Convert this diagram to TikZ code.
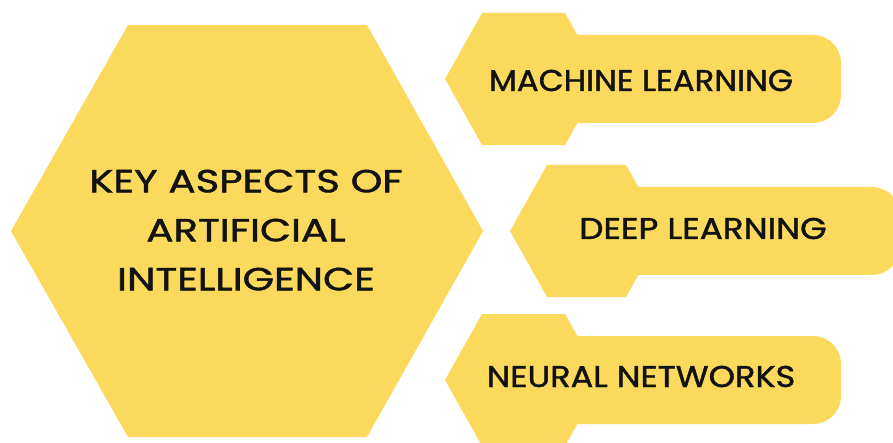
\documentclass[tikz,border=0pt]{standalone}
\usepackage{fontspec}
\usepackage{graphicx}
\newfontfamily\capsfont{Poppins}[FakeBold=1.3]
\definecolor{honey}{RGB}{250,217,92}
\definecolor{ink}{RGB}{18,18,18}

% A tab: hexagon head (left vertex at #1,#2; top edge #3 long) joined to a
% rounded bar ending at x = #4.
\newcommand\honeytab[4]{%
  \fill[honey] (#1,#2) -- ++(37,-66) -- ++(#3,0) -- ++(37,66)
               -- ++(-37,66) -- ++(-#3,0) -- cycle;
  \fill[honey, rounded corners=28] (#1+100,#2-44) rectangle (#4,#2+44);
}
% widened caption text: #1 horizontal stretch, #2 text
\newcommand\widecaps[2]{\scalebox{#1}[1]{#2}}

\begin{document}
\begin{tikzpicture}[x=1pt, y=-1pt,
    tabtext/.style={font=\capsfont\fontsize{30}{49}\selectfont, text=ink,
                    inner sep=0pt, anchor=base},
    coretext/.style={font=\capsfont\fontsize{32}{49}\selectfont, text=ink,
                     inner sep=0pt}]
  \useasboundingbox (0,0) rectangle (893,443);
  \begin{scope}
    \clip (0,0) rectangle (893,443);
    % central hexagon
    \fill[honey] (11,231) -- (128,25) -- (367,25) -- (483,231)
                 -- (367,437) -- (128,437) -- cycle;
    % three tabs
    \honeytab{445}{79}{83}{841}
    \honeytab{510}{231}{79}{900}
    \honeytab{445}{380}{83}{841}
  \end{scope}

  \node[coretext] (core) at (246,231.5)
    {\widecaps{1.26}{\begin{tabular}{@{}c@{}}KEY ASPECTS OF\\ARTIFICIAL\\INTELLIGENCE\end{tabular}}};
  \node[tabtext] (ml) at (641,91) {\widecaps{1.08}{MACHINE LEARNING}};
  \node[tabtext] (dl) at (703,239) {\widecaps{1.14}{DEEP LEARNING}};
  \node[tabtext] (nn) at (641,387) {\widecaps{1.12}{NEURAL NETWORKS}};
\end{tikzpicture}
\end{document}
